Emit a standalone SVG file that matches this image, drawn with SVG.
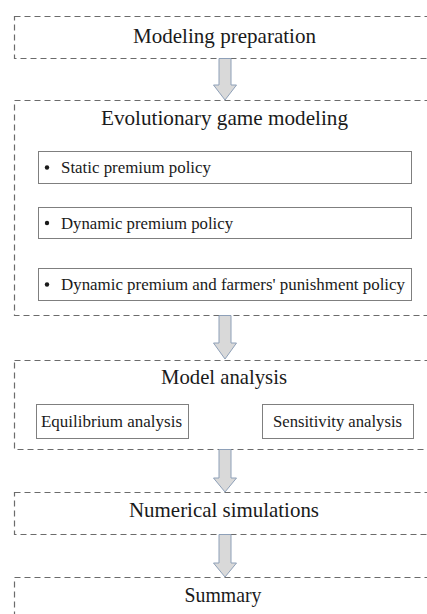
<svg xmlns="http://www.w3.org/2000/svg" width="427" height="614" viewBox="0 0 427 614">
<style>
.stage{fill:#fff;stroke:#6b6b6b;stroke-width:1.2;stroke-dasharray:6,4}
.item{fill:#fff;stroke:#7f7f7f;stroke-width:1}
.arrow{fill:#d9d9d9;stroke:#8ea0b8;stroke-width:1}
.title{font-size:21px;fill:#1a1a1a;text-anchor:middle}
.txt{font-size:17px;fill:#1a1a1a}
.bul{fill:#1a1a1a}
</style>
<rect width="427" height="614" fill="#fff"/>
<g font-family="'Liberation Serif', 'Times New Roman', 'DejaVu Serif', serif">
<g id="n1">
<rect class="stage" x="14.5" y="16.5" width="440" height="42"/>
<text class="title" x="224.5" y="43" textLength="183" lengthAdjust="spacingAndGlyphs">Modeling preparation</text>
</g>
<g id="n2">
<rect class="stage" x="14.5" y="100.5" width="440" height="215"/>
<text class="title" x="224.5" y="125" textLength="247" lengthAdjust="spacingAndGlyphs">Evolutionary game modeling</text>
<g id="n2a">
<rect class="item" x="38.5" y="151.5" width="373" height="32"/>
<circle class="bul" cx="47" cy="167.5" r="2.2"/>
<text class="txt" x="61" y="173" textLength="150" lengthAdjust="spacingAndGlyphs">Static premium policy</text>
</g>
<g id="n2b">
<rect class="item" x="38.5" y="207.5" width="373" height="31"/>
<circle class="bul" cx="47" cy="223" r="2.2"/>
<text class="txt" x="61" y="228.5" textLength="172" lengthAdjust="spacingAndGlyphs">Dynamic premium policy</text>
</g>
<g id="n2c">
<rect class="item" x="38.5" y="268.5" width="373" height="32"/>
<circle class="bul" cx="47" cy="284.5" r="2.2"/>
<text class="txt" x="61" y="290" textLength="344" lengthAdjust="spacingAndGlyphs">Dynamic premium and farmers' punishment policy</text>
</g>
</g>
<g id="n3">
<rect class="stage" x="14.5" y="360.5" width="440" height="89"/>
<text class="title" x="224" y="384" textLength="126" lengthAdjust="spacingAndGlyphs">Model analysis</text>
<g id="n3a">
<rect class="item" x="36.5" y="404.5" width="152" height="34"/>
<text class="txt" x="41" y="427" textLength="141" lengthAdjust="spacingAndGlyphs">Equilibrium analysis</text>
</g>
<g id="n3b">
<rect class="item" x="262.5" y="404.5" width="151" height="34"/>
<text class="txt" x="273" y="427" textLength="129" lengthAdjust="spacingAndGlyphs">Sensitivity analysis</text>
</g>
</g>
<g id="n4">
<rect class="stage" x="14.5" y="492.5" width="440" height="42"/>
<text class="title" x="224" y="516.5" textLength="190" lengthAdjust="spacingAndGlyphs">Numerical simulations</text>
</g>
<g id="n5">
<rect class="stage" x="14.5" y="577.5" width="440" height="60"/>
<text class="title" x="223" y="602" textLength="77" lengthAdjust="spacingAndGlyphs">Summary</text>
</g>
</g>
<g id="connectors">
<path class="arrow" d="M219,58.5 H231 V85 H236.5 L225,100 L213.5,85 H219 Z"/>
<path class="arrow" d="M219,315.5 H231 V343 H236.5 L225,359 L213.5,343 H219 Z"/>
<path class="arrow" d="M219,449.5 H231 V478 H236.5 L225,492 L213.5,478 H219 Z"/>
<path class="arrow" d="M219,534.5 H231 V563 H236.5 L225,577 L213.5,563 H219 Z"/>
</g>
</svg>
